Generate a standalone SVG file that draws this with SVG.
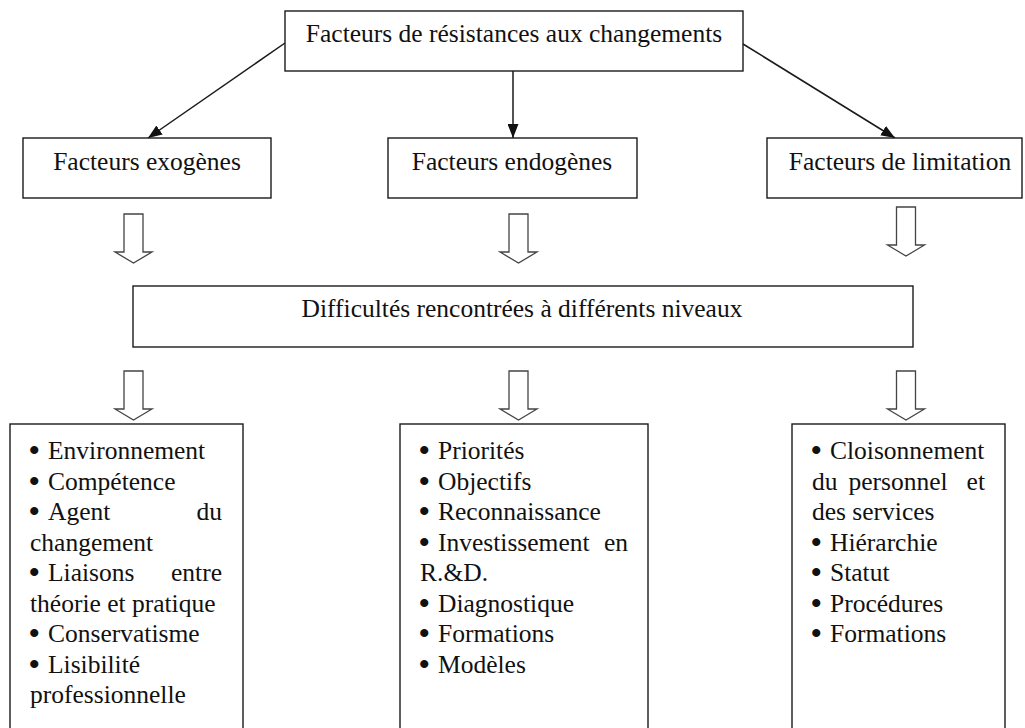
<svg xmlns="http://www.w3.org/2000/svg" width="1025" height="728" viewBox="0 0 1025 728">
<style>
  .box{fill:#fff;stroke:#1a1a1a;stroke-width:1.4}
  .t{font-family:"Liberation Serif","Times New Roman",serif;font-size:25.5px;fill:#111}
  .b{font-size:30px;font-weight:bold}
  .c{text-anchor:middle}
  .e{text-anchor:end}
  .conn{stroke:#1a1a1a;stroke-width:1.5;fill:none}
  .blk{fill:#fff;stroke:#444;stroke-width:1.3}
</style>
<defs>
  <marker id="ah" viewBox="0 0 14 11" refX="14" refY="5.5" markerWidth="14" markerHeight="11" markerUnits="userSpaceOnUse" orient="auto">
    <path d="M0,0 L14,5.5 L0,11 Z" fill="#111"/>
  </marker>
  <path id="bigarrow" d="M-9.5,0 L9.5,0 L9.5,38 L18.5,38 L0,49 L-18.5,38 L-9.5,38 Z"/>
</defs>
<rect width="1025" height="728" fill="#fff"/>

<g id="connectors">
  <line class="conn" x1="285" y1="43" x2="148" y2="138" marker-end="url(#ah)"/>
  <line class="conn" x1="513" y1="71" x2="513" y2="138" marker-end="url(#ah)"/>
  <line class="conn" x1="743" y1="44" x2="895" y2="138" marker-end="url(#ah)"/>
  <use href="#bigarrow" class="blk" x="133.5" y="214"/>
  <use href="#bigarrow" class="blk" x="518.5" y="214"/>
  <use href="#bigarrow" class="blk" x="906" y="207"/>
  <use href="#bigarrow" class="blk" x="133.5" y="371"/>
  <use href="#bigarrow" class="blk" x="518.5" y="371"/>
  <use href="#bigarrow" class="blk" x="906" y="371"/>
</g>

<g id="node-top">
  <rect class="box" x="285" y="11" width="458" height="60"/>
  <text class="t c" x="514" y="42">Facteurs de résistances aux changements</text>
</g>

<g id="node-exogenes">
  <rect class="box" x="23" y="138" width="248" height="60"/>
  <text class="t c" x="147" y="170">Facteurs exogènes</text>
</g>

<g id="node-endogenes">
  <rect class="box" x="388" y="138" width="249" height="60"/>
  <text class="t c" x="512" y="170">Facteurs endogènes</text>
</g>

<g id="node-limitation">
  <rect class="box" x="767" y="138" width="255" height="60"/>
  <text class="t c" x="900" y="170">Facteurs de limitation</text>
</g>

<g id="node-difficultes">
  <rect class="box" x="133" y="286" width="780" height="61"/>
  <text class="t c" x="522" y="317">Difficultés rencontrées à différents niveaux</text>
</g>

<g id="node-list-left">
  <rect class="box" x="10" y="424" width="233" height="320"/>
  <g class="t">
    <text class="b" x="29" y="460">•</text><text x="48" y="459">Environnement</text>
    <text class="b" x="29" y="490.5">•</text><text x="48" y="489.5">Compétence</text>
    <text class="b" x="29" y="521">•</text><text x="48" y="520">Agent</text><text class="e" x="222" y="520">du</text>
    <text x="30" y="550.5">changement</text>
    <text class="b" x="29" y="582">•</text><text x="48" y="581">Liaisons</text><text class="e" x="222" y="581">entre</text>
    <text x="30" y="611.5">théorie et pratique</text>
    <text class="b" x="29" y="643">•</text><text x="48" y="642">Conservatisme</text>
    <text class="b" x="29" y="673.5">•</text><text x="48" y="672.5">Lisibilité</text>
    <text x="30" y="703">professionnelle</text>
  </g>
</g>

<g id="node-list-middle">
  <rect class="box" x="400" y="424" width="248" height="320"/>
  <g class="t">
    <text class="b" x="419" y="460">•</text><text x="438" y="459">Priorités</text>
    <text class="b" x="419" y="490.5">•</text><text x="438" y="489.5">Objectifs</text>
    <text class="b" x="419" y="521">•</text><text x="438" y="520">Reconnaissance</text>
    <text class="b" x="419" y="551.5">•</text><text x="438" y="550.5">Investissement</text><text class="e" x="628" y="550.5">en</text>
    <text x="420" y="581">R.&amp;D.</text>
    <text class="b" x="419" y="612.5">•</text><text x="438" y="611.5">Diagnostique</text>
    <text class="b" x="419" y="643">•</text><text x="438" y="642">Formations</text>
    <text class="b" x="419" y="673.5">•</text><text x="438" y="672.5">Modèles</text>
  </g>
</g>

<g id="node-list-right">
  <rect class="box" x="792" y="424" width="213" height="320"/>
  <g class="t">
    <text class="b" x="811" y="460">•</text><text x="830" y="459">Cloisonnement</text>
    <text x="812" y="489.5">du</text><text class="c" x="898" y="489.5">personnel</text><text class="e" x="985" y="489.5">et</text>
    <text x="812" y="520">des services</text>
    <text class="b" x="811" y="551.5">•</text><text x="830" y="550.5">Hiérarchie</text>
    <text class="b" x="811" y="582">•</text><text x="830" y="581">Statut</text>
    <text class="b" x="811" y="612.5">•</text><text x="830" y="611.5">Procédures</text>
    <text class="b" x="811" y="643">•</text><text x="830" y="642">Formations</text>
  </g>
</g>
</svg>
